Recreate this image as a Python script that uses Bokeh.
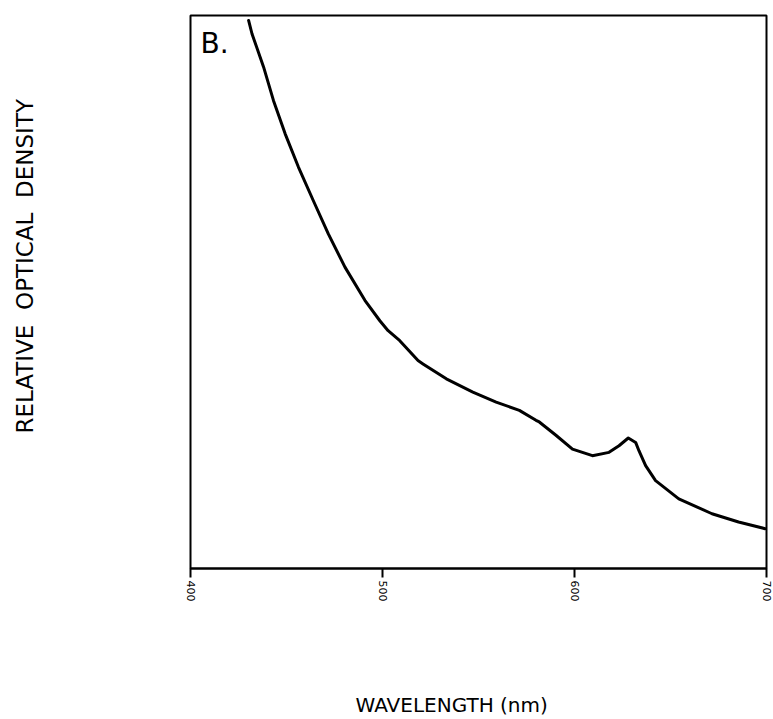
import math
from bokeh.plotting import figure
from bokeh.models import Range1d, FixedTicker, Label, Title
from bokeh.embed import file_html
from bokeh.resources import INLINE

# Data (wavelength in nm, relative optical density 0..1)
wavelength = [430.26, 432.02, 438.05, 443.24, 449.31, 456.21, 463.99, 471.78,
              480.45, 490.83, 498.62, 502.93, 509.00, 518.50, 521.09, 533.24,
              547.05, 559.19, 571.28, 579.95, 581.66, 590.33, 598.94, 609.33,
              617.99, 623.18, 628.01, 631.85, 633.56, 637.04, 642.23, 654.33,
              671.61, 685.45, 699.3]
density = [0.991, 0.967, 0.907, 0.846, 0.786, 0.726, 0.665, 0.605,
           0.545, 0.485, 0.448, 0.430, 0.412, 0.376, 0.370, 0.343,
           0.319, 0.301, 0.286, 0.268, 0.265, 0.241, 0.216, 0.204,
           0.210, 0.222, 0.236, 0.228, 0.213, 0.186, 0.159, 0.126,
           0.099, 0.084, 0.072]
x_ticks = [400, 500, 600, 700]
panel_label = "B."
x_title = "WAVELENGTH (nm)"
y_title = "RELATIVE\u00a0\u00a0OPTICAL\u00a0\u00a0DENSITY"

p = figure(width=773, height=719, output_backend="svg", toolbar_location=None,
           x_range=Range1d(400, 700), y_range=Range1d(0, 1))
p.min_border_left = 190
p.min_border_right = 7
p.min_border_top = 15
p.min_border_bottom = 151
p.background_fill_color = "white"
p.border_fill_color = "white"
p.outline_line_color = "black"
p.outline_line_width = 2
p.outline_line_alpha = 1.0
p.grid.visible = False
p.yaxis.visible = False

ax = p.xaxis[0]
ax.ticker = FixedTicker(ticks=x_ticks)
ax.minor_tick_line_color = None
ax.major_tick_in = 0
ax.major_tick_out = 9
ax.major_tick_line_width = 2
ax.major_tick_line_color = "black"
ax.major_tick_line_alpha = 1.0
ax.axis_line_width = 2
ax.axis_line_color = "black"
ax.major_label_orientation = -math.pi / 2
ax.major_label_text_font = "DejaVu Sans"
ax.major_label_text_font_size = "11px"
ax.major_label_text_color = "black"
ax.major_label_standoff = 3

p.line(wavelength, density, line_color="black", line_width=3,
       line_join="round", line_cap="round")

p.add_layout(Label(x=405.2, y=0.980, text=panel_label, text_font="DejaVu Sans",
                   text_font_size="28px", text_color="black",
                   text_baseline="top", text_align="left"))

# blank titles used only as empty space, then the real axis titles
p.add_layout(Title(text=" ", standoff=83, text_font_size="1px"), "below")
p.add_layout(Title(text=x_title, align="left", offset=165, standoff=0,
                   text_font="DejaVu Sans", text_font_size="20px",
                   text_font_style="normal", text_color="black"), "below")
p.add_layout(Title(text=" ", standoff=150, text_font_size="1px"), "left")
p.add_layout(Title(text=y_title, align="left", offset=135, standoff=0,
                   text_font="DejaVu Sans", text_font_size="23px",
                   text_font_style="normal", text_color="black"), "left")

open("out.html", "w").write(file_html(p, INLINE))
